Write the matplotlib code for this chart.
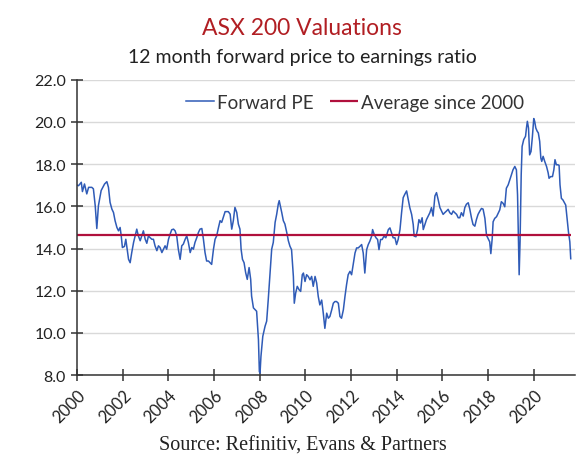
import matplotlib.pyplot as plt

plt.rcParams['font.family'] = ['Lato', 'DejaVu Sans']

# Forward PE (decimal year, ratio)
years = [
    2000.00, 2000.06, 2000.18, 2000.23, 2000.32, 2000.42, 2000.50, 2000.64, 2000.71, 2000.79,
    2000.86, 2000.93, 2001.05, 2001.20, 2001.30, 2001.37, 2001.44, 2001.52, 2001.59, 2001.66,
    2001.74, 2001.81, 2001.88, 2001.93, 2001.98, 2002.07, 2002.13, 2002.19, 2002.25, 2002.32,
    2002.39, 2002.47, 2002.54, 2002.61, 2002.68, 2002.76, 2002.83, 2002.90, 2002.98, 2003.05,
    2003.12, 2003.19, 2003.27, 2003.34, 2003.41, 2003.49, 2003.56, 2003.63, 2003.71, 2003.78,
    2003.85, 2003.92, 2004.00, 2004.07, 2004.14, 2004.22, 2004.29, 2004.36, 2004.43, 2004.51,
    2004.58, 2004.65, 2004.73, 2004.80, 2004.87, 2004.95, 2005.02, 2005.09, 2005.16, 2005.24,
    2005.31, 2005.38, 2005.46, 2005.53, 2005.60, 2005.67, 2005.75, 2005.82, 2005.89, 2005.97,
    2006.04, 2006.11, 2006.19, 2006.26, 2006.33, 2006.40, 2006.48, 2006.55, 2006.62, 2006.70,
    2006.77, 2006.84, 2006.91, 2006.99, 2007.06, 2007.13, 2007.18, 2007.24, 2007.31, 2007.38,
    2007.45, 2007.53, 2007.60, 2007.64, 2007.72, 2007.79, 2007.86, 2007.94, 2007.98, 2008.01,
    2008.05, 2008.13, 2008.23, 2008.30, 2008.37, 2008.45, 2008.52, 2008.59, 2008.67, 2008.74,
    2008.81, 2008.85, 2008.96, 2009.03, 2009.10, 2009.18, 2009.25, 2009.32, 2009.39, 2009.47,
    2009.51, 2009.57, 2009.64, 2009.72, 2009.79, 2009.86, 2009.91, 2009.98, 2010.05, 2010.12,
    2010.20, 2010.27, 2010.34, 2010.42, 2010.49, 2010.56, 2010.63, 2010.71, 2010.78, 2010.85,
    2010.93, 2011.00, 2011.07, 2011.15, 2011.22, 2011.29, 2011.36, 2011.44, 2011.51, 2011.58,
    2011.66, 2011.73, 2011.80, 2011.87, 2011.95, 2012.02, 2012.09, 2012.17, 2012.24, 2012.31,
    2012.39, 2012.46, 2012.53, 2012.60, 2012.68, 2012.75, 2012.82, 2012.90, 2012.94, 2013.01,
    2013.09, 2013.16, 2013.22, 2013.29, 2013.36, 2013.44, 2013.52, 2013.63, 2013.70, 2013.77,
    2013.84, 2013.92, 2013.99, 2014.06, 2014.14, 2014.21, 2014.28, 2014.35, 2014.43, 2014.50,
    2014.57, 2014.65, 2014.72, 2014.76, 2014.84, 2014.91, 2014.97, 2015.04, 2015.11, 2015.16,
    2015.23, 2015.30, 2015.38, 2015.45, 2015.52, 2015.59, 2015.67, 2015.74, 2015.81, 2015.89,
    2015.96, 2016.03, 2016.10, 2016.18, 2016.25, 2016.32, 2016.40, 2016.47, 2016.54, 2016.62,
    2016.69, 2016.76, 2016.83, 2016.91, 2016.98, 2017.05, 2017.13, 2017.20, 2017.27, 2017.34,
    2017.42, 2017.49, 2017.56, 2017.64, 2017.71, 2017.78, 2017.86, 2017.93, 2018.00, 2018.07,
    2018.12, 2018.18, 2018.22, 2018.29, 2018.37, 2018.44, 2018.51, 2018.58, 2018.66, 2018.73,
    2018.80, 2018.88, 2018.95, 2019.02, 2019.09, 2019.17, 2019.24, 2019.29, 2019.33, 2019.36,
    2019.40, 2019.45, 2019.49, 2019.56, 2019.64, 2019.68, 2019.72, 2019.77, 2019.82, 2019.88,
    2019.94, 2020.00, 2020.04, 2020.09, 2020.15, 2020.20, 2020.26, 2020.31, 2020.35, 2020.41,
    2020.48, 2020.56, 2020.63, 2020.67, 2020.74, 2020.82, 2020.88, 2020.93, 2020.99, 2021.06,
    2021.11, 2021.15, 2021.21, 2021.28, 2021.36, 2021.40, 2021.46, 2021.52, 2021.58, 2021.62,
]
forward_pe = [
    17.00, 16.98, 17.14, 16.70, 17.06, 16.59, 16.90, 16.90, 16.83, 16.03,
    14.95, 16.03, 16.75, 17.06, 17.17, 16.90, 16.19, 15.87, 15.71, 15.32,
    15.00, 14.84, 15.00, 14.60, 14.05, 14.10, 14.44, 13.97, 13.49, 13.33,
    13.81, 14.29, 14.60, 14.92, 14.60, 14.37, 14.60, 14.84, 14.44, 14.25,
    14.60, 14.52, 14.44, 14.44, 14.13, 13.90, 14.13, 14.05, 13.81, 13.97,
    14.13, 13.97, 14.44, 14.68, 14.89, 14.92, 14.84, 14.60, 13.97, 13.49,
    14.13, 14.21, 14.44, 14.60, 14.29, 13.81, 14.05, 13.97, 14.29, 14.52,
    14.76, 14.92, 14.95, 14.44, 13.81, 13.41, 13.41, 13.33, 13.25, 13.97,
    14.44, 14.60, 15.00, 15.32, 15.24, 15.48, 15.75, 15.75, 15.75, 15.63,
    14.92, 15.32, 15.95, 15.71, 15.16, 14.92, 13.97, 13.49, 13.33, 12.86,
    12.54, 13.10, 12.54, 11.75, 11.19, 11.11, 11.03, 9.68, 8.17, 8.10,
    8.89, 9.84, 10.32, 10.56, 11.59, 12.86, 13.97, 14.29, 15.24, 15.63,
    16.11, 16.27, 15.71, 15.32, 15.16, 14.76, 14.37, 14.11, 13.95, 12.68,
    11.41, 11.89, 12.21, 12.05, 11.97, 12.76, 12.84, 12.44, 12.76, 12.68,
    12.52, 12.68, 12.21, 12.68, 12.37, 11.73, 11.33, 11.56, 10.94, 10.22,
    10.94, 10.70, 10.78, 11.10, 11.41, 11.49, 11.49, 11.41, 10.78, 10.70,
    11.10, 11.73, 12.29, 12.76, 12.92, 12.76, 13.24, 13.79, 14.03, 14.03,
    14.11, 14.19, 13.79, 12.84, 13.95, 14.19, 14.35, 14.59, 14.90, 14.67,
    14.51, 14.43, 13.95, 14.43, 14.43, 14.59, 14.51, 14.90, 14.98, 14.75,
    14.51, 14.51, 14.19, 14.43, 14.90, 15.70, 16.41, 16.57, 16.73, 16.33,
    15.94, 15.62, 15.14, 14.59, 14.56, 14.90, 15.37, 15.21, 15.46, 14.90,
    15.14, 15.37, 15.54, 15.70, 15.94, 15.54, 16.49, 16.65, 16.33, 15.94,
    15.78, 15.62, 15.70, 15.78, 15.86, 15.70, 15.62, 15.78, 15.70, 15.62,
    15.46, 15.46, 15.70, 15.54, 15.94, 16.10, 16.17, 15.86, 15.46, 15.14,
    15.06, 15.38, 15.62, 15.78, 15.90, 15.87, 15.43, 14.63, 14.48, 14.32,
    13.76, 14.48, 15.27, 15.43, 15.51, 15.67, 15.83, 16.22, 16.14, 15.98,
    16.86, 17.02, 17.25, 17.49, 17.73, 17.89, 17.73, 16.54, 14.32, 12.76,
    14.32, 17.49, 18.84, 19.16, 19.32, 19.71, 20.03, 19.71, 18.44, 18.60,
    19.30, 20.16, 20.03, 19.71, 19.56, 19.48, 19.08, 18.29, 18.13, 18.37,
    18.13, 17.89, 17.59, 17.33, 17.41, 17.41, 17.73, 18.21, 17.97, 17.97,
    17.94, 17.02, 16.38, 16.30, 16.14, 16.06, 15.43, 14.79, 14.32, 13.52,
]
average_pe = 14.66
year_ticks = list(range(2000, 2021, 2))
pe_ticks = [8, 10, 12, 14, 16, 18, 20, 22]

fig = plt.figure(figsize=(5.76, 4.56), dpi=100)
ax = fig.add_axes([0.134, 0.175, 0.864, 0.648])

ax.plot(years, forward_pe, color='#2f5bb7', lw=1.1, label='Forward PE')
ax.hlines(average_pe, years[0], years[-1], color='#b0103c', lw=1.6,
          label='Average since 2000')

ax.set_xlim(2000, 2021.8)
ax.set_ylim(8, 22)
ax.set_yticks(pe_ticks)
ax.set_yticklabels([f'{v:.1f}' for v in pe_ticks], fontsize=11.5)
ax.set_xticks(year_ticks)
ax.set_xticklabels([str(y) for y in year_ticks], fontsize=12, rotation=45,
                   ha='right', va='top', rotation_mode='anchor')

ax.grid(axis='y', color='#d9d9d9', lw=1)
ax.set_axisbelow(True)
for side in ['top', 'right']:
    ax.spines[side].set_visible(False)
for side in ['left', 'bottom']:
    ax.spines[side].set_color('#333333')
    ax.spines[side].set_linewidth(1.1)
ax.tick_params(axis='both', direction='inout', length=9, width=1.1,
               color='#333333', labelcolor='#222222')
ax.tick_params(axis='x', pad=4)

leg = ax.legend(loc='upper center', bbox_to_anchor=(0.558, 1.0), ncol=2,
                frameon=False, fontsize=13.5, handlelength=1.5, handletextpad=0.15,
                columnspacing=0.9, borderaxespad=0.35)
for t in leg.get_texts():
    t.set_color('#333333')

fig.text(0.525, 0.938, 'ASX 200 Valuations', ha='center', va='center',
         fontsize=16.5, color='#b11e23')
fig.text(0.525, 0.873, '12 month forward price to earnings ratio', ha='center',
         va='center', fontsize=14, color='#222222')
fig.text(0.525, 0.021, 'Source: Refinitiv, Evans & Partners', ha='center',
         va='center', fontsize=14.5, family=['Liberation Serif', 'DejaVu Serif'],
         color='#222222')

fig.savefig('out.png', dpi=100)
